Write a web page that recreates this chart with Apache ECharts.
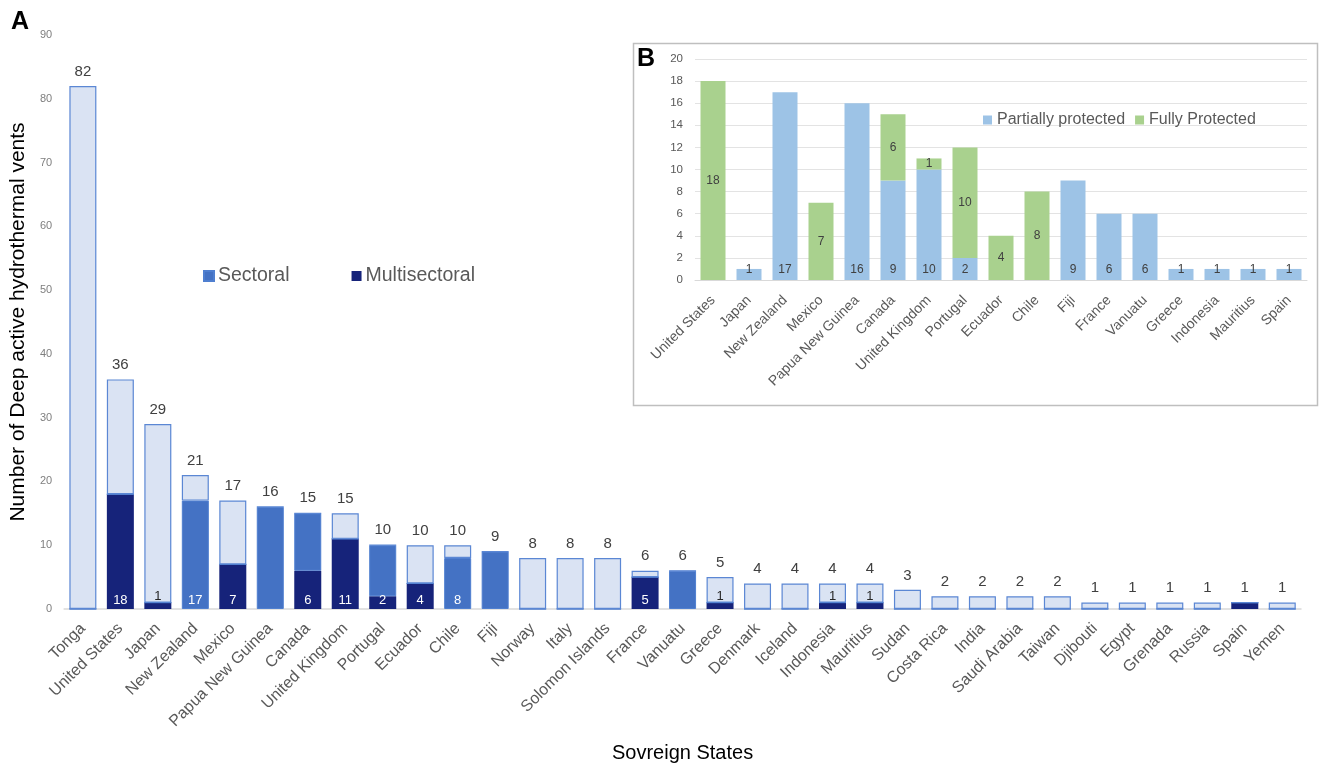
<!DOCTYPE html>
<html>
<head>
<meta charset="utf-8">
<script src="https://cdn.jsdelivr.net/npm/echarts@6/dist/echarts.min.js"></script>
<style>
  html, body { margin: 0; padding: 0; background: #fff; }
  #main { width: 1323px; height: 768px; }
</style>
</head>
<body>
<div id="main"></div>
<script>
// Panel A: deep active hydrothermal vents per sovereign state
var states = ['Tonga', 'United States', 'Japan', 'New Zealand', 'Mexico', 'Papua New Guinea', 'Canada',
    'United Kingdom', 'Portugal', 'Ecuador', 'Chile', 'Fiji', 'Norway', 'Italy', 'Solomon Islands', 'France',
    'Vanuatu', 'Greece', 'Denmark', 'Iceland', 'Indonesia', 'Mauritius', 'Sudan', 'Costa Rica', 'India',
    'Saudi Arabia', 'Taiwan', 'Djibouti', 'Egypt', 'Grenada', 'Russia', 'Spain', 'Yemen'];
var totals = [82, 36, 29, 21, 17, 16, 15, 15, 10, 10, 10, 9, 8, 8, 8, 6, 6, 5, 4, 4, 4, 4, 3, 2, 2, 2, 2, 1, 1, 1, 1, 1, 1];
var multisectoral = [0, 18, 1, 0, 7, 0, 6, 11, 2, 4, 0, 0, 0, 0, 0, 5, 0, 1, 0, 0, 1, 1, 0, 0, 0, 0, 0, 0, 0, 0, 0, 1, 0];
var sectoral = [0, 0, 0, 17, 0, 16, 9, 0, 8, 0, 8, 9, 0, 0, 0, 0, 6, 0, 0, 0, 0, 0, 0, 0, 0, 0, 0, 0, 0, 0, 0, 0, 0];
var unprotected = [82, 18, 28, 4, 10, 0, 0, 4, 0, 6, 2, 0, 8, 8, 8, 1, 0, 4, 4, 4, 3, 3, 3, 2, 2, 2, 2, 1, 1, 1, 1, 0, 1];
// numbers printed at the foot of the bars ('' = none)
var footLabels = ['', '18', '1', '17', '7', '', '6', '11', '2', '4', '8', '', '', '', '', '5', '', '1', '', '', '1', '1',
    '', '', '', '', '', '', '', '', '', '', ''];

// Panel B: protection level of the protected vents
var insetStates = ['United States', 'Japan', 'New Zealand', 'Mexico', 'Papua New Guinea', 'Canada', 'United Kingdom',
    'Portugal', 'Ecuador', 'Chile', 'Fiji', 'France', 'Vanuatu', 'Greece', 'Indonesia', 'Mauritius', 'Spain'];
var partially = [0, 1, 17, 0, 16, 9, 10, 2, 0, 0, 9, 6, 6, 1, 1, 1, 1];
var fully = [18, 0, 0, 7, 0, 6, 1, 10, 4, 8, 0, 0, 0, 0, 0, 0, 0];

var FONT = 'Liberation Sans, Arial, sans-serif';
var C_MULTI = '#16237a', C_SECT = '#4472c4', C_LIGHT = '#dae3f3';

function footLabel(i, value) {
    var txt = footLabels[i];
    if (!txt) return { show: false };
    if (value <= 1) {
        return { show: true, position: 'top', distance: 0, formatter: txt, color: '#262626', fontSize: 13, fontFamily: FONT };
    }
    return { show: true, position: 'insideBottom', distance: 2, formatter: txt, color: '#fff', fontSize: 13, fontFamily: FONT };
}

var multiData = multisectoral.map(function (v, i) {
    return { value: v, label: v > 0 ? footLabel(i, v) : { show: false } };
});
var sectData = sectoral.map(function (v, i) {
    return { value: v, label: (v > 0 && multisectoral[i] === 0) ? footLabel(i, v) : { show: false } };
});

function insetLabels(arr, pos) {
    return arr.map(function (v) {
        return { value: v, label: { show: v > 0, position: pos } };
    });
}

var option = {
    animation: false,
    textStyle: { fontFamily: FONT },
    graphic: [
        { type: 'rect', z: 0, shape: { x: 633.5, y: 43.5, width: 684, height: 362 },
          style: { fill: '#fff', stroke: '#bfbfbf', lineWidth: 1.5 } },
        { type: 'text', left: 11, top: 10, style: { text: 'A', font: 'bold 25px ' + FONT, fill: '#000' } },
        { type: 'text', left: 637, top: 47, style: { text: 'B', font: 'bold 25px ' + FONT, fill: '#000' } }
    ],
    legend: [
        {
            data: ['Sectoral', 'Multisectoral'],
            left: 198, top: 261,
            icon: 'rect', itemWidth: 10, itemHeight: 10, itemGap: 62,
            textStyle: { fontSize: 19.5, color: '#595959', fontFamily: FONT, padding: [0, 0, 0, -1] }
        },
        {
            data: ['Partially protected', 'Fully Protected'],
            left: 978, top: 107,
            icon: 'rect', itemWidth: 9, itemHeight: 9, itemGap: 10,
            textStyle: { fontSize: 16, color: '#595959', fontFamily: FONT }
        }
    ],
    grid: [
        { left: 61, right: 22, top: 35, bottom: 157 },
        { left: 695, right: 16, top: 59, bottom: 488 }
    ],
    xAxis: [
        {
            type: 'category', gridIndex: 0, data: states,
            name: 'Sovreign States', nameLocation: 'middle', nameGap: 134,
            nameTextStyle: { fontSize: 20, color: '#000', fontFamily: FONT },
            axisLine: { lineStyle: { color: '#d9d9d9', width: 1.5 } },
            axisTick: { show: false },
            axisLabel: { interval: 0, rotate: 45, margin: 17, fontSize: 16, color: '#595959', fontFamily: FONT }
        },
        {
            type: 'category', gridIndex: 1, data: insetStates,
            axisLine: { lineStyle: { color: '#d9d9d9' } },
            axisTick: { show: false },
            axisLabel: { interval: 0, rotate: 45, margin: 18, fontSize: 14, color: '#595959', fontFamily: FONT }
        }
    ],
    yAxis: [
        {
            type: 'value', gridIndex: 0, min: 0, max: 90, interval: 10,
            name: 'Number of Deep active hydrothermal vents', nameLocation: 'middle', nameGap: 34,
            nameTextStyle: { fontSize: 21, color: '#000', fontFamily: FONT },
            axisLine: { show: false }, axisTick: { show: false }, splitLine: { show: false },
            axisLabel: { fontSize: 11, color: '#7f7f7f', margin: 12 }
        },
        {
            type: 'value', gridIndex: 1, min: 0, max: 20, interval: 2,
            axisLine: { show: false }, axisTick: { show: false },
            splitLine: { lineStyle: { color: '#e3e3e3' } },
            axisLabel: { fontSize: 11.5, color: '#595959', margin: 12 }
        }
    ],
    series: [
        {
            name: 'Multisectoral', type: 'bar', stack: 'a', barWidth: 27,
            xAxisIndex: 0, yAxisIndex: 0,
            itemStyle: { color: C_MULTI },
            data: multiData
        },
        {
            name: 'Sectoral', type: 'bar', stack: 'a', barWidth: 27,
            xAxisIndex: 0, yAxisIndex: 0,
            itemStyle: { color: C_SECT, borderColor: '#4f7fd0', borderWidth: 1 },
            data: sectData
        },
        {
            name: 'Unprotected', type: 'bar', stack: 'a', barWidth: 27,
            xAxisIndex: 0, yAxisIndex: 0,
            itemStyle: { color: C_LIGHT, borderColor: '#5b87d4', borderWidth: 1.2 },
            label: {
                show: true, position: 'top', distance: 7,
                fontSize: 15, color: '#404040', fontFamily: FONT,
                formatter: function (p) { return totals[p.dataIndex]; }
            },
            data: unprotected
        },
        {
            name: 'Partially protected', type: 'bar', stack: 'b', barWidth: 25,
            xAxisIndex: 1, yAxisIndex: 1,
            itemStyle: { color: '#9dc3e6' },
            label: { fontSize: 12, color: '#404040', distance: 4 },
            data: insetLabels(partially, 'insideBottom')
        },
        {
            name: 'Fully Protected', type: 'bar', stack: 'b', barWidth: 25,
            xAxisIndex: 1, yAxisIndex: 1,
            itemStyle: { color: '#a9d18e' },
            label: { fontSize: 12, color: '#404040' },
            data: insetLabels(fully, 'inside')
        }
    ]
};

var chart = echarts.init(document.getElementById('main'));
chart.setOption(option);
</script>
</body>
</html>
